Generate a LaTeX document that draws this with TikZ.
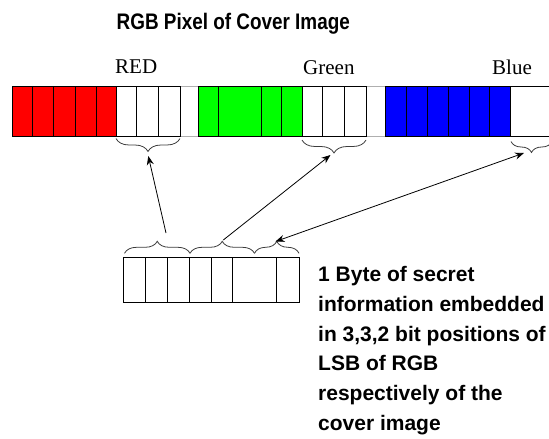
\documentclass[tikz,border=0pt]{standalone}
\usepackage{fontspec}
\setmainfont{Liberation Serif}
\newfontfamily\sansfont{Liberation Sans}
\newfontfamily\titlefont{Liberation Sans}[FakeStretch=0.84]
\usetikzlibrary{decorations.pathreplacing,arrows.meta}
\definecolor{pxred}{RGB}{255,0,0}
\definecolor{pxgreen}{RGB}{0,255,0}
\definecolor{pxblue}{RGB}{0,0,255}
\definecolor{bracegray}{RGB}{60,60,60}
\definecolor{gapgray}{RGB}{175,175,175}
\tikzset{
  cell/.style={draw=black, line width=1pt},
  bracedown/.style={draw=bracegray, line width=0.8pt, decorate, decoration={brace, amplitude=#1}},
  braceup/.style={draw=bracegray, line width=0.8pt, decorate, decoration={brace, amplitude=#1}},
  link/.style={draw=black, line width=0.8pt, -{Stealth[length=9pt,width=7pt]}},
  dlink/.style={draw=black, line width=0.8pt, {Stealth[length=9pt,width=7pt]}-{Stealth[length=9pt,width=7pt]}},
  label/.style={font=\fontsize{21pt}{21pt}\selectfont, anchor=base west, inner sep=0pt},
}
\begin{document}
\begin{tikzpicture}[x=1pt,y=-1pt]
\useasboundingbox (0,0) rectangle (549,439);
\begin{scope}
\clip (0,0) rectangle (549,439);
% title
\node[anchor=base west, inner sep=0pt, font=\titlefont\bfseries\fontsize{22.5pt}{22.5pt}\selectfont] (title) at (116.5,29.3) {RGB Pixel of Cover Image};
% labels
\node[label] (redlbl) at (115,73.5) {RED};
\node[label] (greenlbl) at (303,74.3) {Green};
\node[label] (bluelbl) at (492,74.3) {Blue};
% gaps (light outline)
\draw[gapgray, line width=0.8pt] (180,86) -- (198,86) (180,136.7) -- (198,136.7)
  (366,86) -- (385,86) (366,136.7) -- (385,136.7);
% fills
\fill[pxred] (12.3,86) rectangle (116,136.7);
\fill[pxgreen] (198,86) rectangle (302,136.7);
\fill[pxblue] (385,86) rectangle (510,136.7);
% outlines of the three sections
\draw[cell] (12.3,86) rectangle (180,136.7);
\draw[cell] (198,86) rectangle (366,136.7);
\draw[cell] (385,86) rectangle (552,136.7);
% cell dividers
\foreach \x in {32.3,53.3,75,96,116,136.7,158.3}
  \draw[cell] (\x,86) -- (\x,136.7);
\foreach \x in {218.3,261,281.7,302,322.3,344}
  \draw[cell] (\x,86) -- (\x,136.7);
\draw[cell] (406,86) -- (406,136.7);
\draw[cell] (427,86) -- (427,136.7);
\draw[cell] (448,86) -- (448,136.7);
\draw[cell] (469,86) -- (469,136.7);
\draw[cell] (489.5,86) -- (489.5,136.7);
\draw[cell] (510,86) -- (510,136.7);
% braces under the LSB cells
\draw[bracedown=13pt] (180,138.5) -- (116,138.5);
\draw[bracedown=13pt] (366,140) -- (302,140);
\draw[bracedown=11pt] (552,141.5) -- (511,141.5);
% byte box
\draw[cell] (123.3,257.5) rectangle (299,302.7);
\foreach \x in {145.7,167.7,189.3,211,232.7,276.7}
  \draw[cell] (\x,257.5) -- (\x,302.7);
% braces over the byte
\draw[braceup=12pt] (124.5,253.3) -- (190,253.3);
\draw[braceup=12pt] (190,253.3) -- (254.5,253.3);
\draw[braceup=12pt] (254.5,253.3) -- (299,253.3);
% arrow end points
\coordinate (redtip) at (148.3,156);
\coordinate (greentip) at (330.5,155);
\coordinate (bluetip) at (524,153);
\coordinate (b1tip) at (166,233);
\coordinate (b2tip) at (223.3,240);
\coordinate (b3tip) at (275.5,241.5);
\draw[link] (b1tip) -- (redtip);
\draw[link] (b2tip) -- (greentip);
\draw[dlink] (b3tip) -- (bluetip);
% description
\node[anchor=base west, inner sep=0pt] (desc) at (318,281.7) {\parbox[t]{240pt}{\raggedright\sansfont\bfseries\fontsize{21pt}{29.7pt}\selectfont
1 Byte of secret\\
information embedded\\
in 3,3,2 bit positions of\\
LSB of RGB\\
respectively of the\\
cover image}};
\end{scope}
\end{tikzpicture}
\end{document}
